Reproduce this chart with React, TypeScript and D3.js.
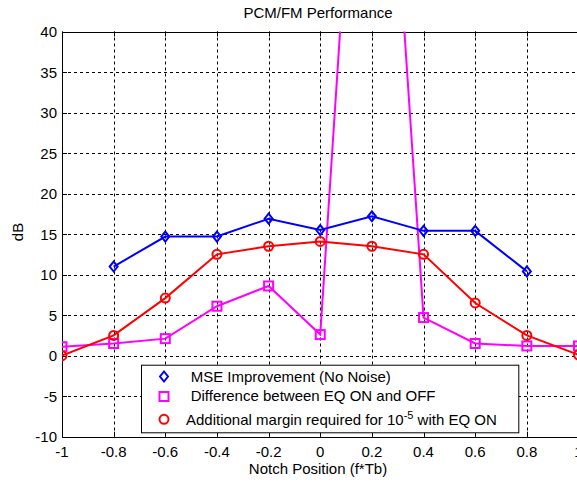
import React from "react";
import * as d3 from "d3";

const positions = [-1, -0.8, -0.6, -0.4, -0.2, 0, 0.2, 0.4, 0.6, 0.8, 1];
const mseX = [-0.8, -0.6, -0.4, -0.2, 0, 0.2, 0.4, 0.6, 0.8];
const mseImprovement = [11.0, 14.7, 14.7, 16.9, 15.5, 17.2, 15.4, 15.4, 10.4];
const eqDifference = [1.1, 1.5, 2.1, 6.1, 8.6, 2.6, 100, 4.7, 1.5, 1.2, 1.2];
const additionalMargin = [0.0, 2.5, 7.1, 12.5, 13.5, 14.1, 13.5, 12.5, 6.5, 2.5, 0.1];
const xTicks = [-1, -0.8, -0.6, -0.4, -0.2, 0, 0.2, 0.4, 0.6, 0.8, 1];
const yTicks = [-10, -5, 0, 5, 10, 15, 20, 25, 30, 35, 40];
const legendLabels = [
  "MSE Improvement (No Noise)",
  "Difference between EQ ON and OFF",
  "Additional margin required for ",
];

const W = 577;
const H = 483;
const L = 62;
const R = 578.5;
const T = 31.5;
const B = 436.7;
const FONT = "'Liberation Sans', Arial, sans-serif";
const FS = 15;

export default function App() {
  const x = d3.scaleLinear().domain([-1, 1]).range([L, R]);
  const y = d3.scaleLinear().domain([-10, 40]).range([B, T]);

  const line = d3
    .line<[number, number]>()
    .x((d) => x(d[0]))
    .y((d) => y(d[1]));

  const mseData: [number, number][] = mseX.map((v, i) => [v, mseImprovement[i]]);
  const diffData: [number, number][] = positions.map((v, i) => [v, eqDifference[i]]);
  const marginData: [number, number][] = positions.map((v, i) => [v, additionalMargin[i]]);

  const diamond = (cx: number, cy: number, key: string | number) => (
    <path
      key={key}
      d={`M${cx},${cy - 5}L${cx + 4},${cy}L${cx},${cy + 5}L${cx - 4},${cy}Z`}
      fill="none"
      stroke="#0000ff"
      strokeWidth={2}
    />
  );
  const square = (cx: number, cy: number, key: string | number) => (
    <rect
      key={key}
      x={cx - 4.5}
      y={cy - 4.5}
      width={9}
      height={9}
      fill="none"
      stroke="#ff00ff"
      strokeWidth={2}
    />
  );
  const circle = (cx: number, cy: number, key: string | number) => (
    <circle key={key} cx={cx} cy={cy} r={4.5} fill="none" stroke="#ff0000" strokeWidth={2} />
  );

  const fmt = (v: number) => String(+v.toFixed(1));

  const legX = 141;
  const legY = 364.7;
  const legW = 377.3;
  const legH = 67.6;

  return (
    <svg
      width={W}
      height={H}
      style={{ position: "absolute", left: 0, top: 0, background: "#fff" }}
      fontFamily={FONT}
    >
      <defs>
        <clipPath id="plotClip">
          <rect x={L} y={T} width={R - L} height={B - T} />
        </clipPath>
      </defs>
      <rect x={0} y={0} width={W} height={H} fill="#fff" />
      {/* grid */}
      <g stroke="#000" strokeWidth={1} strokeDasharray="3,3">
        {xTicks
          .filter((v) => v > -1 && v < 1)
          .map((v) => (
            <line key={"gx" + v} x1={Math.round(x(v)) + 0.5} x2={Math.round(x(v)) + 0.5} y1={T} y2={B} />
          ))}
        {yTicks
          .filter((v) => v > -10 && v < 40)
          .map((v) => (
            <line key={"gy" + v} x1={L} x2={R} y1={Math.round(y(v)) + 0.5} y2={Math.round(y(v)) + 0.5} />
          ))}
      </g>
      {/* axes box */}
      <g stroke="#000" strokeWidth={1} fill="none">
        <line x1={L + 0.5} x2={L + 0.5} y1={T} y2={B + 0.5} />
        <line x1={L} x2={R} y1={Math.round(T) + 0.5} y2={Math.round(T) + 0.5} />
        <line x1={L} x2={R} y1={Math.round(B) + 0.5} y2={Math.round(B) + 0.5} />
        {xTicks.map((v) => (
          <g key={"tx" + v}>
            <line x1={Math.round(x(v)) + 0.5} x2={Math.round(x(v)) + 0.5} y1={B} y2={B - 5} />
            <line x1={Math.round(x(v)) + 0.5} x2={Math.round(x(v)) + 0.5} y1={T} y2={T + 5} />
          </g>
        ))}
        {yTicks.map((v) => (
          <line key={"ty" + v} x1={L} x2={L + 5} y1={Math.round(y(v)) + 0.5} y2={Math.round(y(v)) + 0.5} />
        ))}
      </g>
      {/* data */}
      <g clipPath="url(#plotClip)">
        <path d={line(diffData) || ""} fill="none" stroke="#ff00ff" strokeWidth={2} />
        <path d={line(marginData) || ""} fill="none" stroke="#ff0000" strokeWidth={2} />
        <path d={line(mseData) || ""} fill="none" stroke="#0000ff" strokeWidth={2} />
        {diffData.map((d, i) => square(x(d[0]), y(d[1]), "s" + i))}
        {marginData.map((d, i) => circle(x(d[0]), y(d[1]), "c" + i))}
        {mseData.map((d, i) => diamond(x(d[0]), y(d[1]), "d" + i))}
      </g>
      {/* tick labels */}
      <g fontSize={FS} fill="#000">
        {xTicks.map((v) => (
          <text key={"lx" + v} x={x(v)} y={457} textAnchor="middle">
            {fmt(v)}
          </text>
        ))}
        {yTicks.map((v) => (
          <text key={"ly" + v} x={57} y={y(v) + 5.5} textAnchor="end">
            {String(v)}
          </text>
        ))}
      </g>
      {/* title and labels */}
      <text x={318} y={18} textAnchor="middle" fontSize={FS} fill="#000">
        PCM/FM Performance
      </text>
      <text x={318} y={474} textAnchor="middle" fontSize={FS} fill="#000">
        Notch Position (f*Tb)
      </text>
      <text transform="translate(23,232) rotate(-90)" textAnchor="middle" fontSize={FS} fill="#000">
        dB
      </text>
      {/* legend */}
      <g>
        <rect x={legX + 0.5} y={legY + 0.5} width={legW} height={legH} fill="#fff" stroke="#000" strokeWidth={1} />
        {diamond(164, 376.5, "ld")}
        {square(164, 396.5, "ls")}
        {circle(164, 419.3, "lc")}
        <g fontSize={FS} fill="#000">
          <text x={190.7} y={381.5}>{legendLabels[0]}</text>
          <text x={190.7} y={401}>{legendLabels[1]}</text>
          <text x={186} y={424.5}>
            {legendLabels[2]}10
            <tspan dy={-6} fontSize={11}>-5</tspan>
            <tspan dy={6}> with EQ ON</tspan>
          </text>
        </g>
      </g>
    </svg>
  );
}
